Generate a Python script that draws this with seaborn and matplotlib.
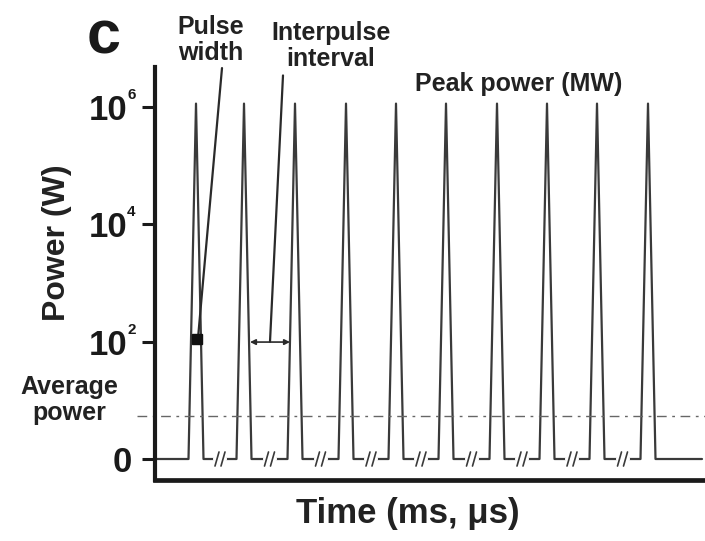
import matplotlib
matplotlib.use("Agg")
import matplotlib.pyplot as plt
import matplotlib.transforms as mtransforms
import seaborn as sns
import pandas as pd

# ---- data (time in arbitrary units, power as log-level: 0, 10^2, 10^4, 10^6) ----
pulse_centers = [41, 89, 140, 191, 241, 291, 342, 392, 442, 493]
pulse_halfwidth = 7.5
peak_level = 3.03
baseline_level = 0.0
trace_end = 547
average_level = 0.37
ytick_levels = [0, 1, 2, 3]
ytick_bases = ["0", "10", "10", "10"]
ytick_exponents = ["", "2", "4", "6"]

sns.set_style("white")
plt.rcParams["font.family"] = ["Liberation Sans", "DejaVu Sans"]

W, H = 705, 541
fig = plt.figure(figsize=(W / 100, H / 100), dpi=100)
ax = fig.add_axes([155 / W, 1 - 480 / H, 550 / W, 413 / H])

# build waveform from pulse list
xs, ys = [0], [baseline_level]
for c in pulse_centers:
    xs += [c - pulse_halfwidth, c, c + pulse_halfwidth]
    ys += [baseline_level, peak_level, baseline_level]
xs.append(trace_end)
ys.append(baseline_level)
wave = pd.DataFrame({"time": xs, "power": ys})

line_col = "#3a3a3a"
sns.lineplot(data=wave, x="time", y="power", ax=ax, color=line_col, lw=1.6,
             estimator=None, sort=False, clip_on=False)

# break marks between pulses
for a, b in zip(pulse_centers[:-1], pulse_centers[1:]):
    m = (a + b) / 2
    ax.plot([m - 5, m + 5], [baseline_level, baseline_level], color="white", lw=3, zorder=3)
    for off in (-3, 3):
        ax.plot([m + off - 2, m + off + 2], [baseline_level - 0.06, baseline_level + 0.06],
                color=line_col, lw=1.2, zorder=4)

# average power dash-dot line
ax.plot([-18, 550], [average_level, average_level], color="#666666", lw=1.0,
        dashes=(7, 4, 2, 4), clip_on=False, zorder=2)

ax.set_xlim(0, 550)
ax.set_ylim(-0.179, 3.342)
ax.set_yticks(ytick_levels)
ax.set_yticklabels([])
ax.set_xticks([])
ax.tick_params(axis="y", direction="out", length=9.5, width=2.2, left=True,
               colors="#1a1a1a")
for s in ["top", "right"]:
    ax.spines[s].set_visible(False)
ax.spines["left"].set_linewidth(3.0)
ax.spines["bottom"].set_linewidth(3.4)
ax.spines["left"].set_color("#1a1a1a")
ax.spines["bottom"].set_color("#1a1a1a")
ax.set_xlabel("")
ax.set_ylabel("")

# manual tick labels (big base, small superscript)
ytrans = ax.get_yaxis_transform()
for lvl, base, ex in zip(ytick_levels, ytick_bases, ytick_exponents):
    if ex:
        tr = ytrans + mtransforms.ScaledTranslation(-28 / 100, 0, fig.dpi_scale_trans)
        ax.text(0, lvl, base, transform=tr, ha="right", va="center_baseline",
                fontsize=25, fontweight="bold", color="#1a1a1a")
        tr2 = ytrans + mtransforms.ScaledTranslation(-28 / 100, 19 / 100, fig.dpi_scale_trans)
        ax.text(0, lvl, ex, transform=tr2, ha="left", va="top",
                fontsize=11, fontweight="bold", color="#1a1a1a")
    else:
        tr = ytrans + mtransforms.ScaledTranslation(-23 / 100, 0, fig.dpi_scale_trans)
        ax.text(0, lvl, base, transform=tr, ha="right", va="center_baseline",
                fontsize=25, fontweight="bold", color="#1a1a1a")

def ftext(x, y, s, **kw):
    fig.text(x / W, 1 - y / H, s, **kw)

txt_col = "#222222"
ftext(57, 243, "Power (W)", rotation=90, ha="center", va="center",
      fontsize=23, fontweight="bold", color=txt_col)
ftext(408, 513, "Time (ms, μs)", ha="center", va="center",
      fontsize=25, fontweight="bold", color=txt_col)
ftext(104, 38, "c", ha="center", va="center", fontsize=44,
      fontweight="heavy", color="#1a1a1a")
ftext(211, 40, "Pulse\nwidth", ha="center", va="center", fontsize=18,
      fontweight="bold", color=txt_col, linespacing=1.1)
ftext(331, 46, "Interpulse\ninterval", ha="center", va="center", fontsize=18,
      fontweight="bold", color=txt_col, linespacing=1.1)
ftext(519, 84, "Peak power (MW)", ha="center", va="center", fontsize=18,
      fontweight="bold", color=txt_col)
ftext(69, 400, "Average\npower", ha="center", va="center", fontsize=18,
      fontweight="bold", color=txt_col, linespacing=1.15)

# leader lines and markers
ax.plot([67, 43], [3.333, 1.03], color="#2a2a2a", lw=1.6, clip_on=False)
ax.plot([42], [1.02], marker="s", color="#111111", markersize=7, clip_on=False)
ax.plot([128, 115], [3.27, 1.0], color="#2a2a2a", lw=1.6, clip_on=False)
ax.annotate("", xy=(95, 0.997), xytext=(135, 0.997),
            arrowprops=dict(arrowstyle="<|-|>", color="#2a2a2a", lw=1.2,
                            mutation_scale=8, shrinkA=0, shrinkB=0))

fig.savefig("out.png", dpi=100)
